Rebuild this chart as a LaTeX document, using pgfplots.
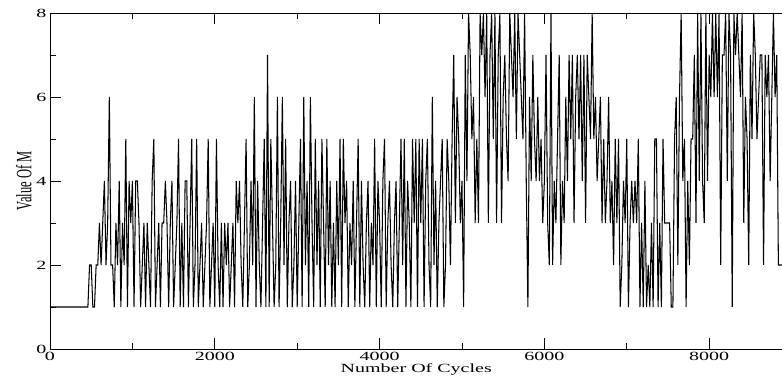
\documentclass[border=0pt]{standalone}
\usepackage{pgfplots}
\pgfplotsset{compat=1.18}
\usepackage{fontspec}
\setmainfont{Liberation Serif}
\newcommand\sx[1]{\scalebox{1.6}[1]{#1}}
\begin{document}
\begin{tikzpicture}
\begin{axis}[
  scale only axis,
  width=732.5pt, height=336pt,
  xmin=0, xmax=8890, ymin=0, ymax=8,
  axis line style={line width=0.8pt},
  tick align=inside,
  xtick pos=both, ytick pos=left,
  major tick length=11pt, minor tick length=6pt,
  tick style={line width=0.6pt, black},
  xtick={0,2000,4000,6000,8000},
  xticklabels={\sx{0},\sx{2000},\sx{4000},\sx{6000},\sx{8000}},
  minor xtick={1000,3000,5000,7000},
  ytick={0,2,4,6,8},
  yticklabels={\sx{0},\sx{2},\sx{4},\sx{6},\sx{8}},
  minor ytick={1,3,5,7},
  every tick label/.append style={font=\fontsize{12.5}{14}\selectfont},
  xlabel={\sx{Number Of Cycles}},
  ylabel={\scalebox{1}[1.75]{Value Of M}},
  label style={font=\fontsize{12.5}{14}\selectfont},
  xlabel style={yshift=4pt},
  ylabel style={yshift=-2pt},
  clip=true,
]
\addplot[black, line width=1.05pt, line join=miter, miter limit=2] table[row sep=\\] {
x y\\ 0 1\\ 440 1\\
460 1\\ 480 2\\ 500 2\\ 520 1\\ 540 1\\ 560 2\\ 580 2\\ 600 3\\ 620 2\\ 640 3\\
660 4\\ 680 2\\ 700 3\\ 720 6\\ 740 2\\ 760 2\\ 780 1\\ 800 3\\ 820 2\\ 840 4\\
860 1\\ 880 3\\ 900 2\\ 920 5\\ 940 1\\ 960 4\\ 980 3\\ 1000 4\\ 1020 1\\ 1040 4\\
1060 4\\ 1080 3\\ 1100 1\\ 1120 2\\ 1140 3\\ 1160 1\\ 1180 3\\ 1200 2\\ 1220 1\\ 1240 4\\
1260 5\\ 1280 1\\ 1300 2\\ 1320 3\\ 1340 1\\ 1360 3\\ 1380 3\\ 1400 4\\ 1420 3\\ 1440 1\\
1460 3\\ 1480 4\\ 1500 1\\ 1520 2\\ 1540 3\\ 1560 5\\ 1580 1\\ 1600 3\\ 1620 1\\ 1640 4\\
1660 4\\ 1680 1\\ 1700 3\\ 1720 5\\ 1740 1\\ 1760 2\\ 1780 5\\ 1800 1\\ 1820 2\\ 1840 3\\
1860 1\\ 1880 2\\ 1900 3\\ 1920 5\\ 1940 1\\ 1960 2\\ 1980 3\\ 2000 1\\ 2020 5\\ 2040 2\\
2060 1\\ 2080 3\\ 2100 1\\ 2120 3\\ 2140 2\\ 2160 3\\ 2180 1\\ 2200 2\\ 2220 3\\ 2240 1\\
2260 4\\ 2280 3\\ 2300 4\\ 2320 2\\ 2340 1\\ 2360 3\\ 2380 5\\ 2400 1\\ 2420 2\\ 2440 4\\
2460 2\\ 2480 6\\ 2500 1\\ 2520 4\\ 2540 2\\ 2560 1\\ 2580 3\\ 2600 5\\ 2620 1\\ 2640 7\\
2660 1\\ 2680 5\\ 2700 3\\ 2720 1\\ 2740 2\\ 2760 6\\ 2780 1\\ 2800 3\\ 2820 6\\ 2840 2\\
2860 5\\ 2880 1\\ 2900 3\\ 2920 4\\ 2940 1\\ 2960 2\\ 2980 4\\ 3000 1\\ 3020 3\\ 3040 5\\
3060 1\\ 3080 6\\ 3100 2\\ 3120 4\\ 3140 1\\ 3160 6\\ 3180 3\\ 3200 1\\ 3220 5\\ 3240 2\\
3260 4\\ 3280 1\\ 3300 5\\ 3320 3\\ 3340 1\\ 3360 5\\ 3380 2\\ 3400 4\\ 3420 1\\ 3440 3\\
3460 1\\ 3480 4\\ 3500 2\\ 3520 5\\ 3540 1\\ 3560 5\\ 3580 3\\ 3600 4\\ 3620 1\\ 3640 3\\
3660 2\\ 3680 4\\ 3700 1\\ 3720 3\\ 3740 5\\ 3760 1\\ 3780 4\\ 3800 2\\ 3820 1\\ 3840 3\\
3860 4\\ 3880 1\\ 3900 3\\ 3920 2\\ 3940 5\\ 3960 1\\ 3980 4\\ 4000 3\\ 4020 1\\ 4040 4\\
4060 5\\ 4080 1\\ 4100 3\\ 4120 4\\ 4140 2\\ 4160 1\\ 4180 3\\ 4200 4\\ 4220 1\\ 4240 3\\
4260 5\\ 4280 2\\ 4300 5\\ 4320 1\\ 4340 4\\ 4360 3\\ 4380 1\\ 4400 5\\ 4420 3\\ 4440 5\\
4460 1\\ 4480 5\\ 4500 3\\ 4520 5\\ 4540 1\\ 4560 4\\ 4580 5\\ 4600 2\\ 4620 1\\ 4640 6\\
4660 2\\ 4680 4\\ 4700 1\\ 4720 3\\ 4740 4\\ 4760 5\\ 4780 1\\ 4800 2\\ 4820 5\\ 4840 4\\
4860 2\\ 4880 5\\ 4900 7\\ 4920 3\\ 4940 6\\ 4960 5\\ 4980 3\\ 5000 4\\ 5020 1\\ 5040 7\\
5060 4\\ 5080 8\\ 5100 7\\ 5120 5\\ 5140 6\\ 5160 3\\ 5180 5\\ 5200 3\\ 5220 8\\ 5240 7\\
5260 8\\ 5280 6\\ 5300 8\\ 5320 3\\ 5340 7\\ 5360 8\\ 5380 5\\ 5400 8\\ 5420 3\\ 5440 7\\
5460 8\\ 5480 3\\ 5500 6\\ 5520 7\\ 5540 5\\ 5560 4\\ 5580 8\\ 5600 7\\ 5620 6\\ 5640 8\\
5660 5\\ 5680 8\\ 5700 7\\ 5720 6\\ 5740 5\\ 5760 8\\ 5780 4\\ 5800 1\\ 5820 6\\ 5840 4\\
5860 7\\ 5880 5\\ 5900 4\\ 5920 6\\ 5940 4\\ 5960 5\\ 5980 3\\ 6000 4\\ 6020 7\\ 6040 3\\
6060 2\\ 6080 8\\ 6100 2\\ 6120 4\\ 6140 3\\ 6160 5\\ 6180 7\\ 6200 2\\ 6220 4\\ 6240 3\\
6260 6\\ 6280 4\\ 6300 7\\ 6320 5\\ 6340 7\\ 6360 3\\ 6380 6\\ 6400 7\\ 6420 5\\ 6440 7\\
6460 4\\ 6480 7\\ 6500 3\\ 6520 7\\ 6540 6\\ 6560 5\\ 6580 8\\ 6600 5\\ 6620 6\\ 6640 4\\
6660 5\\ 6680 6\\ 6700 3\\ 6720 5\\ 6740 3\\ 6760 4\\ 6780 6\\ 6800 3\\ 6820 4\\ 6840 2\\
6860 5\\ 6880 3\\ 6900 5\\ 6920 1\\ 6940 2\\ 6960 4\\ 6980 3\\ 7000 5\\ 7020 1\\ 7040 3\\
7060 4\\ 7080 3\\ 7100 4\\ 7120 3\\ 7140 5\\ 7160 1\\ 7180 3\\ 7200 1\\ 7220 4\\ 7240 1\\
7260 2\\ 7280 1\\ 7300 3\\ 7320 1\\ 7340 5\\ 7360 5\\ 7380 1\\ 7400 3\\ 7420 1\\ 7440 5\\
7460 3\\ 7480 3\\ 7500 3\\ 7520 3\\ 7540 1\\ 7560 1\\ 7580 5\\ 7600 6\\ 7620 2\\ 7640 6\\
7660 8\\ 7680 4\\ 7700 5\\ 7720 1\\ 7740 4\\ 7760 2\\ 7780 5\\ 7800 5\\ 7820 7\\ 7840 3\\
7860 8\\ 7880 4\\ 7900 8\\ 7920 4\\ 7940 3\\ 7960 8\\ 7980 4\\ 8000 7\\ 8020 6\\ 8040 8\\
8060 6\\ 8080 8\\ 8100 6\\ 8120 8\\ 8140 2\\ 8160 7\\ 8180 7\\ 8200 8\\ 8220 4\\ 8240 8\\
8260 7\\ 8280 1\\ 8300 8\\ 8320 7\\ 8340 8\\ 8360 7\\ 8380 6\\ 8400 8\\ 8420 3\\ 8440 6\\
8460 5\\ 8480 2\\ 8500 7\\ 8520 5\\ 8540 8\\ 8560 7\\ 8580 5\\ 8600 6\\ 8620 7\\ 8640 7\\
8660 2\\ 8680 7\\ 8700 6\\ 8720 7\\ 8740 4\\ 8760 6\\ 8780 8\\ 8800 6\\ 8820 7\\ 8840 2\\
8860 2\\ 8880 2\\ 8900 2\\
};
\end{axis}
\pgfresetboundingbox
\useasboundingbox ([xshift=-50pt,yshift=-35pt]current axis.south west) rectangle ([xshift=-0.5pt,yshift=13pt]current axis.north east);
\end{tikzpicture}
\end{document}
